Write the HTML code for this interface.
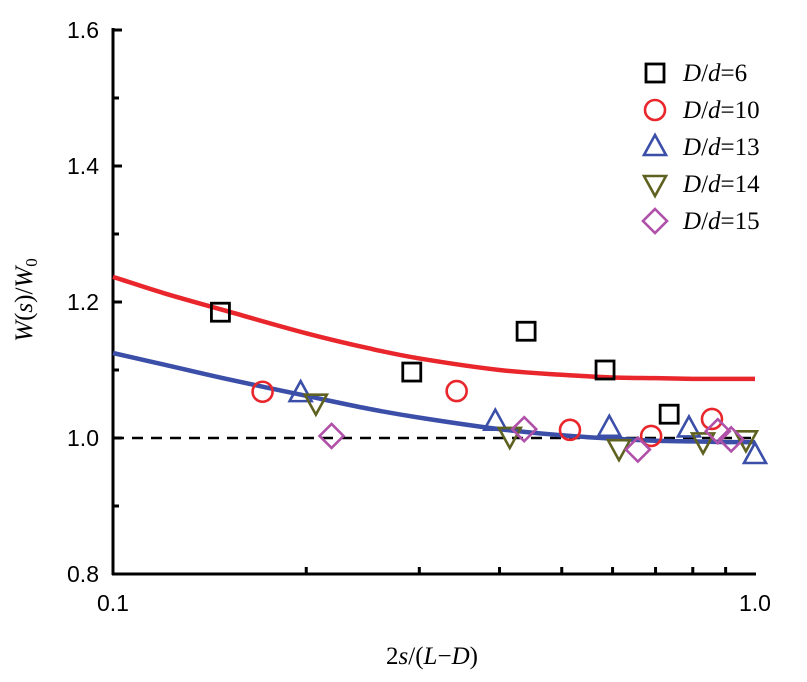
<!DOCTYPE html>
<html><head><meta charset="utf-8"><style>
body{margin:0;background:#fff;width:807px;height:677px;overflow:hidden}
</style></head><body>
<svg id="c" width="807" height="677"></svg>
<script>
const sq=[[0.147,1.185],[0.292,1.097],[0.440,1.157],[0.584,1.100],[0.735,1.035]];
const ci=[[0.171,1.068],[0.343,1.069],[0.515,1.012],[0.689,1.003],[0.857,1.028]];
const tu=[[0.196,1.066],[0.394,1.024],[0.593,1.015],[0.789,1.014],[1.0,0.975]];
const td=[[0.207,1.052],[0.415,1.003],[0.614,0.985],[0.830,0.995],[0.968,0.998]];
const di=[[0.219,1.003],[0.437,1.013],[0.657,0.983],[0.875,1.010],[0.918,0.998]];
const curveX=[0.1,0.12,0.15,0.2,0.25,0.3,0.4,0.5,0.6,0.7,0.8,0.9,1.0];
const redY=[1.237,1.213,1.187,1.154,1.132,1.117,1.100,1.093,1.089,1.088,1.087,1.087,1.087];
const blueY=[1.125,1.108,1.087,1.062,1.043,1.030,1.013,1.004,0.999,0.996,0.995,0.994,0.994];
const yTicks=[0.8,1.0,1.2,1.4,1.6];
const xTicks=[0.1,1.0];
const NS="http://www.w3.org/2000/svg",svg=document.getElementById('c');
const SANS='"Liberation Sans", Arial, sans-serif', SERIF='"Liberation Serif", "Times New Roman", serif';
const X=v=>113+642*Math.log10(v/0.1), Y=v=>438-(v-1)*680;
function mk(t,a,p){const e=document.createElementNS(NS,t);for(const k in a)e.setAttribute(k,a[k]);(p||svg).appendChild(e);return e;}
let e=mk('line',{x1:113,y1:28,x2:113,y2:575,stroke:'#000','stroke-width':3});

e=mk('line',{x1:112,y1:574,x2:756,y2:574,stroke:'#000','stroke-width':3});

for(let v=0.8;v<=1.601;v+=0.1){const major=Math.abs(Math.round(v*10)%2)==0;
 e=mk('line',{x1:113,y1:Y(v),x2:113+(major?9:6),y2:Y(v),stroke:'#000','stroke-width':3});
 }
yTicks.forEach(v=>{e=mk('text',{x:99,y:Y(v)+8,'text-anchor':'end','font-size':23,'font-family':SANS});e.textContent=v.toFixed(1);
 });
for(let k=2;k<=9;k++){e=mk('line',{x1:X(k/10),y1:574,x2:X(k/10),y2:567,stroke:'#000','stroke-width':3});
 }
xTicks.forEach(v=>{e=mk('text',{x:X(v),y:611,'text-anchor':'middle','font-size':23,'font-family':SANS});e.textContent=v.toFixed(1);
 });
e=mk('text',{x:432,y:664,'text-anchor':'middle','font-size':25,'font-family':SERIF});
e.innerHTML='2<tspan font-style="italic">s</tspan>/(<tspan font-style="italic">L</tspan>−<tspan font-style="italic">D</tspan>)';

e=mk('text',{x:0,y:0,'text-anchor':'middle','font-size':25,'font-family':SERIF,transform:'translate(32,300) rotate(-90)'});
e.innerHTML='<tspan font-style="italic">W</tspan>(<tspan font-style="italic">s</tspan>)/<tspan font-style="italic">W</tspan><tspan font-size="17" dy="5">0</tspan>';

e=mk('line',{x1:113,y1:Y(1),x2:755,y2:Y(1),stroke:'#000','stroke-width':2.5,'stroke-dasharray':'11,8'});

function curve(ys,col,name){
 const pts=curveX.map((x,i)=>[X(x),Y(ys[i])]);
 let d='M'+pts[0][0]+','+pts[0][1];
 for(let i=0;i<pts.length-1;i++){const p0=pts[Math.max(i-1,0)],p1=pts[i],p2=pts[i+1],p3=pts[Math.min(i+2,pts.length-1)];
  d+=` C${p1[0]+(p2[0]-p0[0])/6},${p1[1]+(p2[1]-p0[1])/6} ${p2[0]-(p3[0]-p1[0])/6},${p2[1]-(p3[1]-p1[1])/6} ${p2[0]},${p2[1]}`;}
 const p=mk('path',{d:d,fill:'none',stroke:col,'stroke-width':4.5,'stroke-linejoin':'round'});
 }
curve(redY,'#e8262b','fit-curve-upper');curve(blueY,'#3b4ea8','fit-curve-lower');
function marker(kind,cx,cy,g){
 if(kind=='sq')return mk('rect',{x:cx-9,y:cy-9,width:18,height:18,fill:'none',stroke:'#000','stroke-width':2.8},g);
 if(kind=='ci')return mk('circle',{cx:cx,cy:cy,r:10,fill:'none',stroke:'#e8262b','stroke-width':2.6},g);
 if(kind=='tu')return mk('polygon',{points:`${cx},${cy-12} ${cx-11},${cy+8} ${cx+11},${cy+8}`,fill:'none',stroke:'#3b4ea8','stroke-width':2.6},g);
 if(kind=='td')return mk('polygon',{points:`${cx},${cy+12} ${cx-11},${cy-8} ${cx+11},${cy-8}`,fill:'none',stroke:'#5f6120','stroke-width':2.6},g);
 return mk('polygon',{points:`${cx},${cy-12} ${cx+12},${cy} ${cx},${cy+12} ${cx-12},${cy}`,fill:'none',stroke:'#b050a8','stroke-width':2.6},g);}
const series=[['sq',sq,'6'],['ci',ci,'10'],['tu',tu,'13'],['td',td,'14'],['di',di,'15']];
series.forEach(([k,arr,lab],si)=>{
 const g=mk('g',{});
 arr.forEach(p=>{const m=marker(k,X(p[0]),Y(p[1]),g);});
 const ly=73+si*37;
 const lg=mk('g',{});
 marker(k,655,ly,lg);
 const t=mk('text',{x:683,y:ly+8,'font-size':25,'font-family':SERIF},lg);
 t.innerHTML='<tspan font-style="italic">D</tspan>/<tspan font-style="italic">d</tspan>='+lab;
});
</script>
</body></html>
